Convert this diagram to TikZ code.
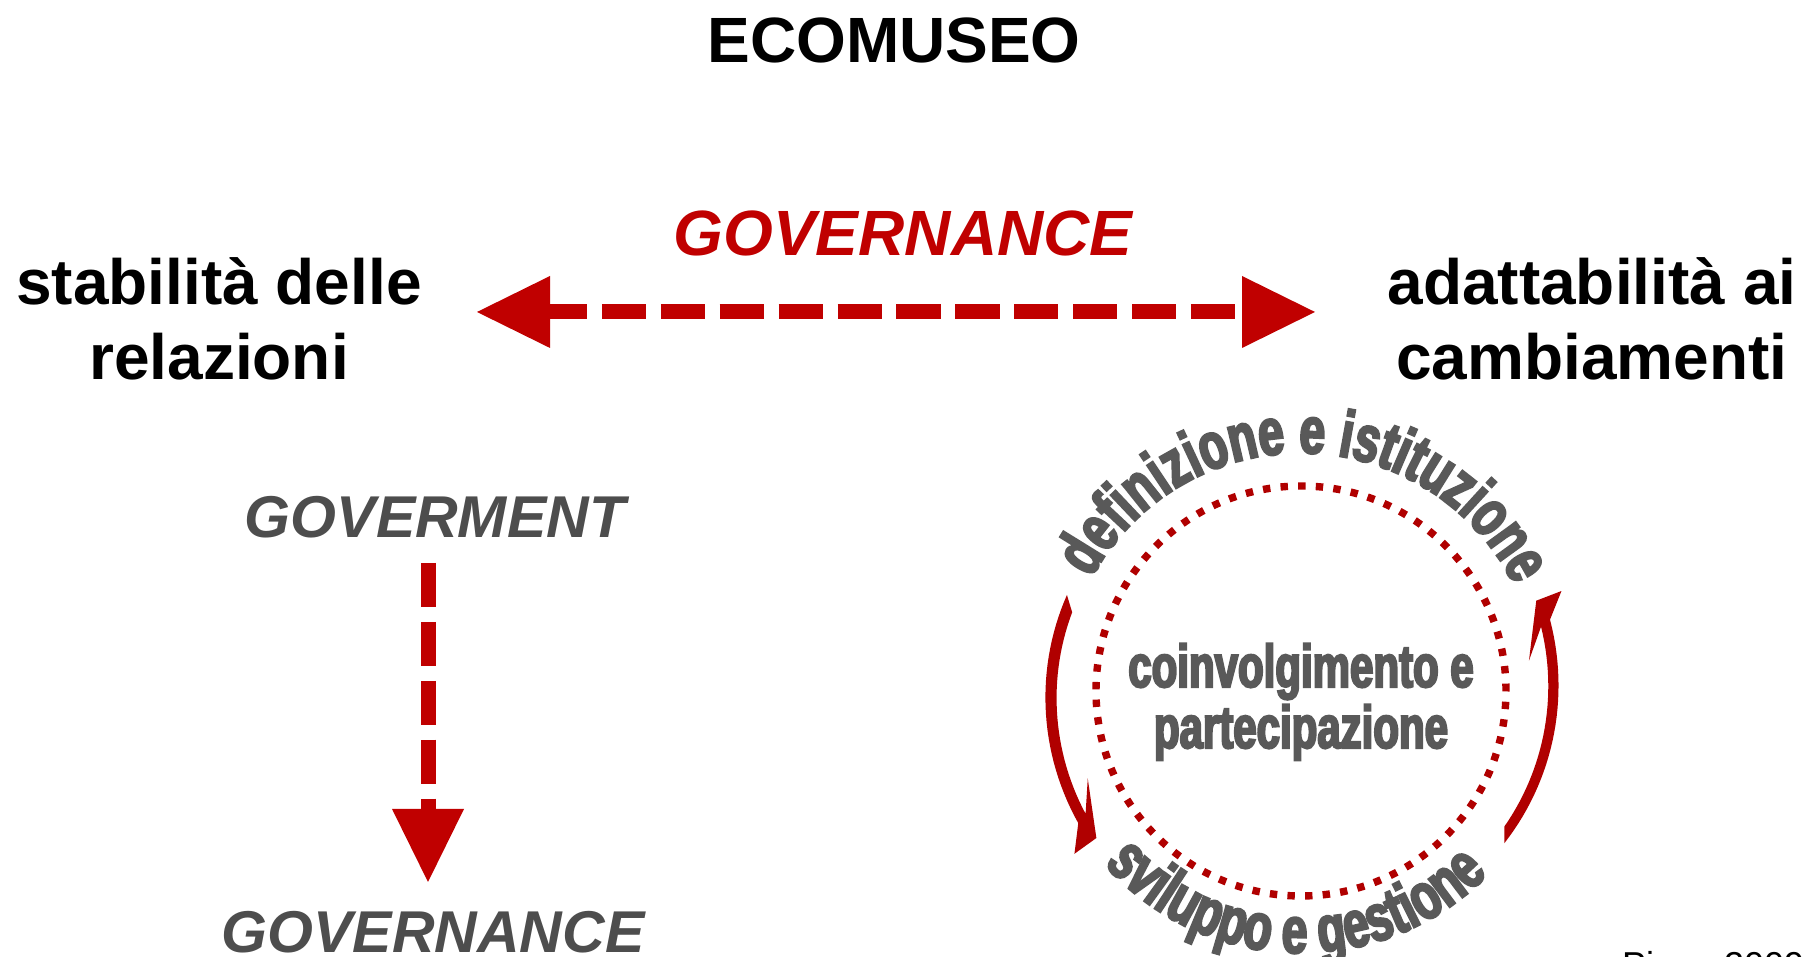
\documentclass[tikz,border=0pt]{standalone}
\usepackage{fontspec}
\setmainfont{Liberation Sans}
\newfontfamily\impactlike[FakeStretch=0.70,FakeBold=3.5]{Liberation Sans Bold}
\usetikzlibrary{arrows.meta,decorations.text}
\definecolor{ecored}{RGB}{192,0,0}
\definecolor{arcred}{RGB}{176,0,0}
\definecolor{txtgray}{RGB}{89,89,89}
\definecolor{italgray}{RGB}{77,77,77}
\newcommand\fsz[1]{\fontsize{#1}{#1}\selectfont}
\tikzset{
  every node/.style={inner sep=0pt, outer sep=0pt},
  headlabel/.style={font=\fsz{32pt}\bfseries, text=black},
  sidelabel/.style={font=\fsz{32pt}\bfseries, text=black},
  redgov/.style={font=\fsz{32pt}\bfseries\itshape, text=ecored},
  graygov/.style={font=\fsz{29.5pt}\bfseries\itshape, text=italgray},
  centertext/.style={font=\impactlike\fsz{30pt}, text=txtgray},
  citetext/.style={font=\fsz{18pt}, text=black},
  govdash/.style={draw=ecored, line width=7.5pt, dash pattern=on 22.1pt off 7.35pt},
  dotring/.style={draw=arcred, line width=3.7pt, dash pattern=on 3.7pt off 5.12pt},
  cyclearrow/.style={fill=arcred},
  >={Triangle[length=36.5pt,width=36pt,line width=0pt]}
}
\begin{document}
\begin{tikzpicture}[x=0.5pt,y=0.5pt]
\useasboundingbox (0,0) rectangle (1805,957);
% titles and labels
\node[headlabel, anchor=base] (title) at (894,894) {ECOMUSEO};
\node[redgov, anchor=base] (govred) at (903,701) {GOVERNANCE};
\node[sidelabel, anchor=base] (stab1) at (219,652) {stabilità delle};
\node[sidelabel, anchor=base] (stab2) at (219,577) {relazioni};
\node[sidelabel, anchor=base] (adat1) at (1592,652) {adattabilità ai};
\node[sidelabel, anchor=base] (adat2) at (1592,577) {cambiamenti};
\node[graygov, anchor=base] (goverment) at (435,419) {GOVERMENT};
\node[graygov, anchor=base] (govgray) at (433,4) {GOVERNANCE};
\node[citetext, anchor=base west] (cite) at (1622,-21) {Pinna 2009};
% horizontal double arrow
\coordinate (hl) at (477,645);
\coordinate (hr) at (1315,645);
\draw[govdash, dash phase=3.5pt, <->] (hl) -- (hr);
% vertical arrow
\coordinate (vt) at (428,394);
\coordinate (vb) at (428,75);
\draw[govdash, ->] (vt) -- (vb);
% cycle
\coordinate (C) at (1301,266);
\draw[dotring] (C) circle[radius=205];
\node[centertext, anchor=base] (cen1) at (1301,270) {coinvolgimento e};
\node[centertext, anchor=base] (cen2) at (1301,209) {partecipazione};
\path[decorate, decoration={text along path, text align=center, text color=txtgray,
  text={|\impactlike\fsz{33pt}|definizione e istituzione}}]
  ([shift={(179:238)}]C) arc[start angle=179, end angle=-1, radius=238];
\path[decorate, decoration={text along path, text align=center, text color=txtgray,
  text={|\impactlike\fsz{33pt}|sviluppo e gestione}}]
  ([shift={(193.5:262)}]C) arc[start angle=193.5, end angle=343.5, radius=262];
\begin{scope}[shift={(C)}]
  % left cycle arrow (going down)
  \fill[cyclearrow] (157.7:253)
    -- plot[domain=0:1, samples=30, variable=\t] ({157.7+53*\t}:{253+6*\t})
    -- (215.7:279) -- (215.7:252) -- (202.3:230.5) -- (209.7:248)
    -- plot[domain=0:1, samples=30, variable=\t] ({209.7-48.7*\t}:{248-6*\t})
    -- cycle;
  % right cycle arrow (going up)
  \fill[cyclearrow] (-36.8:254)
    -- plot[domain=0:1, samples=30, variable=\t] ({-36.8+52.8*\t}:{254+5*\t})
    -- (21:279) -- (21:252) -- (7.6:230) -- (15:248.5)
    -- plot[domain=0:1, samples=30, variable=\t] ({15-48.7*\t}:{248.5-4.1*\t})
    -- cycle;
\end{scope}
\end{tikzpicture}
\end{document}
